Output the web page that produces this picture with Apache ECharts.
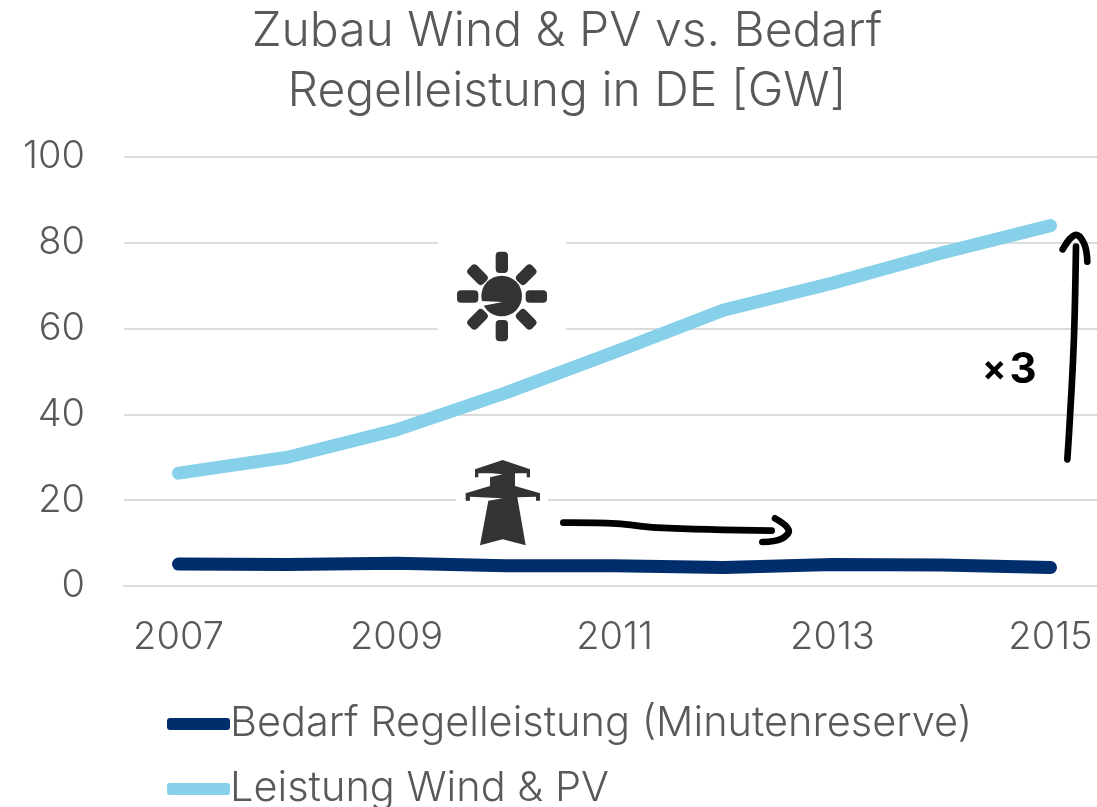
<!DOCTYPE html>
<html>
<head>
<meta charset="utf-8">
<style>html,body{margin:0;padding:0;background:#fff}#chart{width:1097px;height:807px}</style>
<script src="https://cdn.jsdelivr.net/npm/echarts@6/dist/echarts.min.js"></script>
</head>
<body>
<div id="chart"></div>
<script>
const years = ["2007","2008","2009","2010","2011","2012","2013","2014","2015"]
const bedarf = [5.1,5.0,5.3,4.7,4.7,4.3,5.0,4.9,4.3]
const windPv = [26.3,30.0,36.4,45.0,54.5,64.3,70.6,77.6,84.0]
const bedarfName = "Bedarf Regelleistung (Minutenreserve)"
const windName = "Leistung Wind & PV"
const titleText = "Zubau Wind & PV vs. Bedarf\nRegelleistung in DE [GW]"

const font = "Inter"
const grey = "#595959"
const iconGrey = "#333333"

const chart = echarts.init(document.getElementById("chart"))

// icons are drawn in the coordinates of the 3x crop, then scaled down
const ray = (x,y,w,h,rot) => ({
    type:"rect",
    originX:x+w/2, originY:y+h/2,
    rotation:rot,
    z:10,
    shape:{x,y,width:w,height:h,r:12},
    style:{fill:iconGrey}
})
const icons = {
    type:"group", x:430, y:230, scaleX:1/3, scaleY:1/3, z:10,
    children:[
        {type:"rect",z:10,shape:{x:24,y:20,width:384,height:340},style:{fill:"#fff"}},
        {type:"rect",z:10,shape:{x:78,y:780,width:276,height:60},style:{fill:"#fff"}},
        {type:"circle",z:10,shape:{cx:215,cy:198,r:61},style:{fill:iconGrey}},
        {type:"polygon",z:10,shape:{points:[[152,213],[218,216],[160,227]]},style:{fill:"#fff"}},
        ray(197,65,37,64,0),
        ray(197,270,37,64,0),
        ray(81,181,64,37,0),
        ray(287,181,64,37,0),
        ray(124,102,37,64,Math.PI/4),
        ray(270,102,37,64,-Math.PI/4),
        ray(124,236,37,64,-Math.PI/4),
        ray(270,236,37,64,Math.PI/4),
        {type:"polygon",z:10,shape:{points:[
            [218,690],[300,718],[300,742],[290,742],[290,730],[255,730],[255,768],
            [330,790],[330,812],[318,812],[318,800],[262,802],[287,946],[218,928],
            [150,946],[175,812],[218,805],[120,800],[120,812],[107,812],[107,790],
            [180,768],[180,742],[218,733],[185,730],[145,730],[145,742],[135,742],[135,718]
        ]},style:{fill:iconGrey}}
    ]
}
const pen = {stroke:"#000",lineWidth:20,lineCap:"round",lineJoin:"round",fill:null}
const arrowRight = {
    type:"group", x:430, y:230, scaleX:1/3, scaleY:1/3, z:10,
    children:[
        {type:"polyline",z:10,shape:{smooth:0.4,points:[[400,878],[560,881],[680,893],[1025,902]]},style:pen},
        {type:"polyline",z:10,shape:{smooth:0.4,points:[[1035,865],[1076,900],[1055,926],[997,936]]},style:pen}
    ]
}
const arrowUp = {
    type:"group", x:960, y:210, scaleX:1/3, scaleY:1/3, z:10,
    children:[
        {type:"polyline",z:10,shape:{smooth:0.5,points:[[322,748],[330,620],[342,380],[348,110]]},style:pen},
        {type:"polyline",z:10,shape:{smooth:0.4,points:[[308,118],[345,75],[372,100],[382,155]]},style:pen}
    ]
}
const times3 = {
    type:"text", x:982, y:349, z:10,
    style:{
        text:"{a|×}{b|3}",
        rich:{
            a:{fontFamily:font,fontWeight:"bold",fontSize:36,fill:"#000",padding:[0,3,0,0]},
            b:{fontFamily:font,fontWeight:"bold",fontSize:42,fill:"#000"}
        }
    }
}

const legendBase = {
    orient:"horizontal",
    left:167,
    padding:0,
    itemWidth:63, itemHeight:12,
    icon:"roundRect",
    textStyle:{fontFamily:font,fontWeight:300,fontSize:41.5,color:grey,padding:[4,0,0,-5]}
}

chart.setOption({
    animation:false,
    backgroundColor:"#fff",
    title:{
        text:titleText,
        left:567, top:2, padding:0, textAlign:"center",
        textStyle:{fontFamily:font,fontWeight:300,fontSize:48,lineHeight:60,color:grey}
    },
    grid:{left:124,width:981,top:157,height:429,outerBoundsMode:"none"},
    legend:[
        {...legendBase,top:703,data:[bedarfName]},
        {...legendBase,top:768,data:[windName]}
    ],
    xAxis:{
        type:"category",
        data:years,
        axisLine:{lineStyle:{color:"#dcdcdc",width:2}},
        axisTick:{show:false},
        axisLabel:{interval:1,showMaxLabel:true,fontFamily:font,fontWeight:300,fontSize:38,color:grey,margin:33}
    },
    yAxis:{
        type:"value",
        min:0,max:100,interval:20,
        axisLine:{show:false},
        axisTick:{show:false},
        splitLine:{lineStyle:{color:"#dcdcdc",width:2}},
        axisLabel:{fontFamily:font,fontWeight:300,fontSize:38,color:grey,margin:39}
    },
    series:[
        {name:bedarfName,type:"line",data:bedarf,symbol:"none",
         itemStyle:{color:"#002d6b"},lineStyle:{color:"#002d6b",width:13,cap:"round",join:"round"}},
        {name:windName,type:"line",data:windPv,symbol:"none",
         itemStyle:{color:"#87d0ea"},lineStyle:{color:"#87d0ea",width:13,cap:"round",join:"round"}}
    ],
    graphic:[icons,arrowRight,arrowUp,times3]
})
</script>
</body>
</html>
